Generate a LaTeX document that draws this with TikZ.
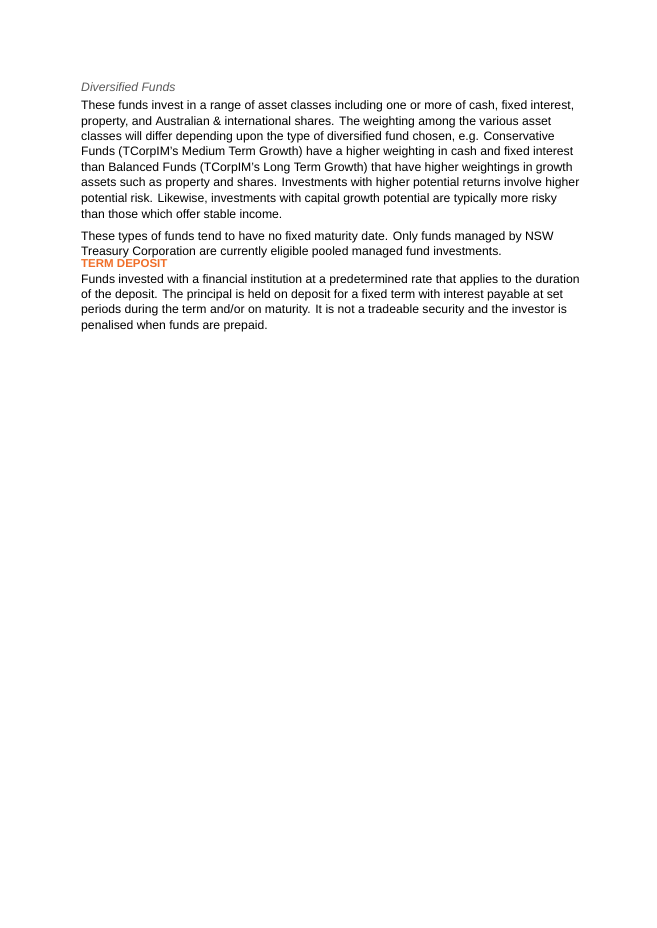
\documentclass[tikz,border=0pt]{standalone}
\usepackage{fontspec}
\setmainfont{Liberation Sans}
\definecolor{headgray}{RGB}{90,90,90}
\definecolor{termorange}{RGB}{240,110,40}
\begin{document}
\begin{tikzpicture}[x=1pt,y=-1pt,
  txt/.style={anchor=west,inner sep=0pt,font=\fontsize{12.2}{14}\selectfont},
  head/.style={anchor=west,inner sep=0pt,font=\fontsize{12.2}{14}\selectfont\itshape,text=headgray},
  orhead/.style={anchor=west,inner sep=0pt,font=\fontsize{11.5}{14}\selectfont\bfseries,text=termorange}]
\useasboundingbox (0,0) rectangle (656,928);
\node[head] (h1) at (81,87) {Diversified Funds};
\node[txt] (l1) at (81,106) {These funds invest in a range of asset classes including one or more of cash, fixed interest,};
\node[txt] (l2) at (81,122) {property, and Australian \& international shares. The weighting among the various asset};
\node[txt] (l3) at (81,137) {classes will differ depending upon the type of diversified fund chosen, e.g. Conservative};
\node[txt] (l4) at (81,152) {Funds (TCorpIM’s Medium Term Growth) have a higher weighting in cash and fixed interest};
\node[txt] (l5) at (81,168) {than Balanced Funds (TCorpIM’s Long Term Growth) that have higher weightings in growth};
\node[txt] (l6) at (81,183) {assets such as property and shares. Investments with higher potential returns involve higher};
\node[txt] (l7) at (81,199) {potential risk. Likewise, investments with capital growth potential are typically more risky};
\node[txt] (l8) at (81,214) {than those which offer stable income.};
\node[txt] (l9) at (81,237) {These types of funds tend to have no fixed maturity date. Only funds managed by NSW};
\node[txt] (l10) at (81,252) {Treasury Corporation are currently eligible pooled managed fund investments.};
\node[orhead] (h2) at (81,264) {TERM DEPOSIT};
\node[txt] (l11) at (81,280) {Funds invested with a financial institution at a predetermined rate that applies to the duration};
\node[txt] (l12) at (81,295) {of the deposit. The principal is held on deposit for a fixed term with interest payable at set};
\node[txt] (l13) at (81,310) {periods during the term and/or on maturity. It is not a tradeable security and the investor is};
\node[txt] (l14) at (81,326) {penalised when funds are prepaid.};
\end{tikzpicture}
\end{document}
